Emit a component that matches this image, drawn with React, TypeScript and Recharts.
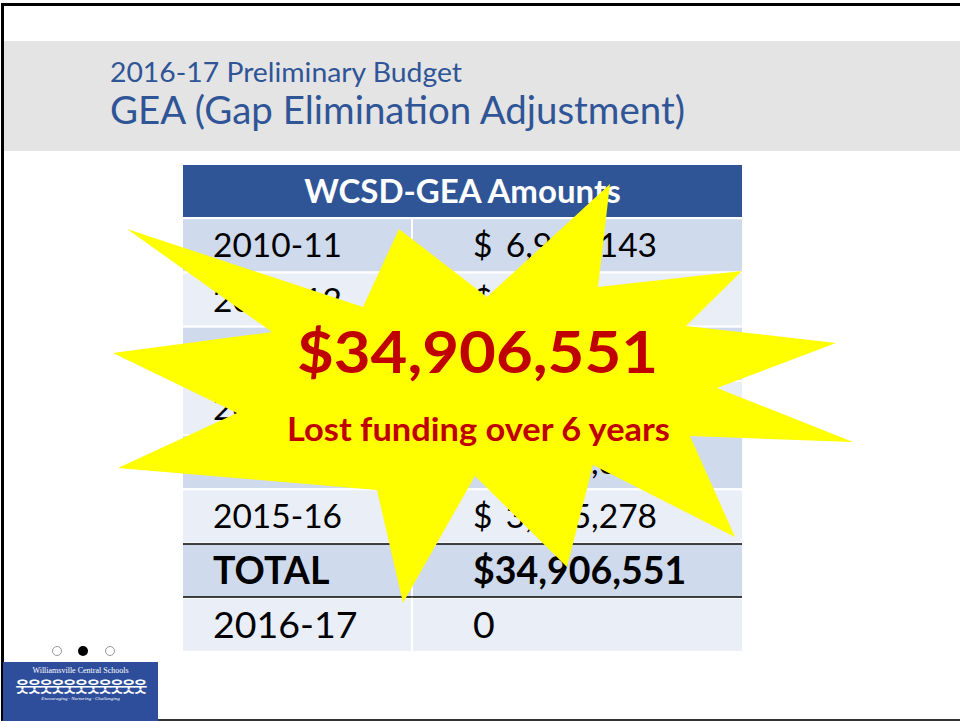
import React from "react";
import {
  BarChart,
  Bar,
  XAxis,
  YAxis,
  ScatterChart,
  Scatter,
} from "recharts";

// table content
const headerText = "WCSD-GEA Amounts";
const periods = ["2010-11", "2011-12", "2012-13", "2013-14", "2014-15", "2015-16", "TOTAL", "2016-17"];
const amounts = [6966143, 8218434, 6573021, 5598311, 4205364, 3345278, 34906551, 0];

// starburst outline (clockwise from the top tip)
const starX = [610, 598, 742, 686, 836, 717, 853, 690, 735, 593, 567, 475, 403, 377, 118, 237, 113, 272, 127, 363, 399, 487];
const starY = [184, 287, 271, 326, 343, 388, 442, 436, 537, 465, 567, 476, 603, 490, 468, 413, 353, 332, 229, 307, 229, 297];

const headline = "$34,906,551";
const subline = "Lost funding over 6 years";
const titleTop = "2016-17 Preliminary Budget";
const titleMain = "GEA (Gap Elimination Adjustment)";

const FONT = "Lato, 'Open Sans', sans-serif";
const COL_SPLIT = 229 / 559;

const tableRows = [
  { period: headerText, amount: null as number | null, band: 1 },
  ...periods.map((p, i) => ({ period: p, amount: amounts[i], band: 1 })),
];

const starPts = starX.map((x, i) => ({ x, y: starY[i] }));

const fmt = (n: number) => n.toLocaleString("en-US");

function RowShape(props: any) {
  const { x, y, width, height, payload, index } = props;
  const split = x + width * COL_SPLIT;
  const cy = y + height / 2;
  if (index === 0) {
    const fs = 33;
    return (
      <g>
        <rect x={x} y={y} width={width} height={height} fill="#2F5597" />
        <text x={x + width / 2} y={cy + fs * 0.36} textAnchor="middle" fill="#fff" fontWeight={700} fontSize={fs} fontFamily={FONT}>
          {payload.period}
        </text>
      </g>
    );
  }
  const isTotal = payload.period === "TOTAL";
  const isLast = index === tableRows.length - 1;
  const fs = isTotal || isLast ? 37.5 : 33.5;
  const base = cy + fs * 0.36;
  const fill = index % 2 === 1 ? "#CFDAEC" : "#E9EEF7";
  return (
    <g>
      <rect x={x} y={y} width={width} height={height} fill={fill} />
      {/* column divider */}
      <rect x={split - 1} y={y - 1} width={2} height={height + 2} fill="#fff" />
      {isTotal && (
        <g stroke="#000" strokeWidth={1.5}>
          <line x1={x} x2={x + width} y1={y - 0.5} y2={y - 0.5} />
          <line x1={x} x2={x + width} y1={y + height + 0.5} y2={y + height + 0.5} />
        </g>
      )}
      <text x={x + 30} y={base} fontSize={fs} fontFamily={FONT} fontWeight={isTotal ? 700 : 400} fill="#000">
        {payload.period}
      </text>
      {isTotal || isLast ? (
        <text x={split + 61} y={base} fontSize={fs} fontFamily={FONT} fontWeight={isTotal ? 700 : 400} fill="#000">
          {isTotal ? "$" + fmt(payload.amount) : fmt(payload.amount)}
        </text>
      ) : (
        <g fontSize={fs} fontFamily={FONT} fill="#000">
          <text x={split + 61} y={base}>$</text>
          <text x={split + 245} y={base} textAnchor="end">
            {fmt(payload.amount)}
          </text>
        </g>
      )}
    </g>
  );
}

export default function App() {
  return (
    <div
      style={{
        position: "absolute",
        left: 0,
        top: 0,
        width: 960,
        height: 721,
        overflow: "hidden",
        background: "#fff",
        fontFamily: FONT,
      }}
    >
      {/* slide frame */}
      <div
        style={{
          position: "absolute",
          left: 1,
          top: 3,
          width: 980,
          height: 718,
          boxSizing: "border-box",
          borderTop: "3px solid #000",
          borderLeft: "3px solid #000",
          borderBottom: "2px solid #333",
        }}
      />
      {/* title band */}
      <div style={{ position: "absolute", left: 4, top: 41, width: 956, height: 110, background: "#E4E4E4" }} />
      <svg width={960} height={721} style={{ position: "absolute", left: 0, top: 0 }}>
        <text x={110} y={82} fontSize={26} fill="#2F5597" fontFamily={FONT} textLength={352} lengthAdjust="spacingAndGlyphs">
          {titleTop}
        </text>
        <text x={110} y={124} fontSize={38} fill="#2F5597" fontFamily={FONT} textLength={575} lengthAdjust="spacingAndGlyphs">
          {titleMain}
        </text>
      </svg>

      {/* table */}
      <div style={{ position: "absolute", left: 183, top: 164 }}>
        <BarChart
          width={559}
          height={488}
          layout="vertical"
          data={tableRows}
          margin={{ top: 0, right: 0, bottom: 0, left: 0 }}
          barCategoryGap={1}
        >
          <XAxis type="number" domain={[0, 1]} hide />
          <YAxis type="category" dataKey="period" hide />
          <Bar dataKey="band" shape={RowShape} isAnimationActive={false} />
        </BarChart>
      </div>

      {/* starburst */}
      <div style={{ position: "absolute", left: 0, top: 0 }}>
        <ScatterChart width={960} height={721} margin={{ top: 0, right: 0, bottom: 0, left: 0 }}>
          <XAxis type="number" dataKey="x" domain={[0, 960]} hide />
          <YAxis type="number" dataKey="y" domain={[0, 721]} reversed hide />
          <Scatter
            data={starPts}
            line={{ fill: "#FFFF00", stroke: "none" }}
            lineType="joint"
            shape={() => <g />}
            isAnimationActive={false}
          />
        </ScatterChart>
      </div>
      <svg width={960} height={721} style={{ position: "absolute", left: 0, top: 0, pointerEvents: "none" }}>
        <text x={297} y={373} fontSize={58} fontWeight={700} fill="#C00000" fontFamily={FONT} textLength={361} lengthAdjust="spacingAndGlyphs">
          {headline}
        </text>
        <text x={287} y={441} fontSize={32} fontWeight={700} fill="#C00000" fontFamily={FONT} textLength={383} lengthAdjust="spacingAndGlyphs">
          {subline}
        </text>
        {/* slide pager */}
        <circle cx={57} cy={651} r={4.5} fill="#fff" stroke="#999" strokeWidth={1} />
        <circle cx={83} cy={651} r={5} fill="#000" />
        <circle cx={110} cy={651} r={4.5} fill="#fff" stroke="#999" strokeWidth={1} />
      </svg>

      {/* district logo */}
      <div
        style={{
          position: "absolute",
          left: 3,
          top: 662,
          width: 155,
          height: 59,
          background: "#2E4E9C",
          color: "#fff",
          textAlign: "center",
          lineHeight: 1,
        }}
      >
        <div style={{ fontFamily: "'Liberation Serif', serif", fontSize: 8, marginTop: 5 }}>Williamsville Central Schools</div>
        <div style={{ fontFamily: "'Noto Sans CJK KR', sans-serif", fontSize: 15, fontWeight: 700, letterSpacing: -2, marginTop: 3 }}>
          웃웃웃웃웃웃웃웃웃웃웃
        </div>
        <div style={{ fontFamily: "'Liberation Serif', serif", fontSize: 5, fontStyle: "italic", marginTop: 3 }}>
          Encouraging · Nurturing · Challenging
        </div>
      </div>
    </div>
  );
}
